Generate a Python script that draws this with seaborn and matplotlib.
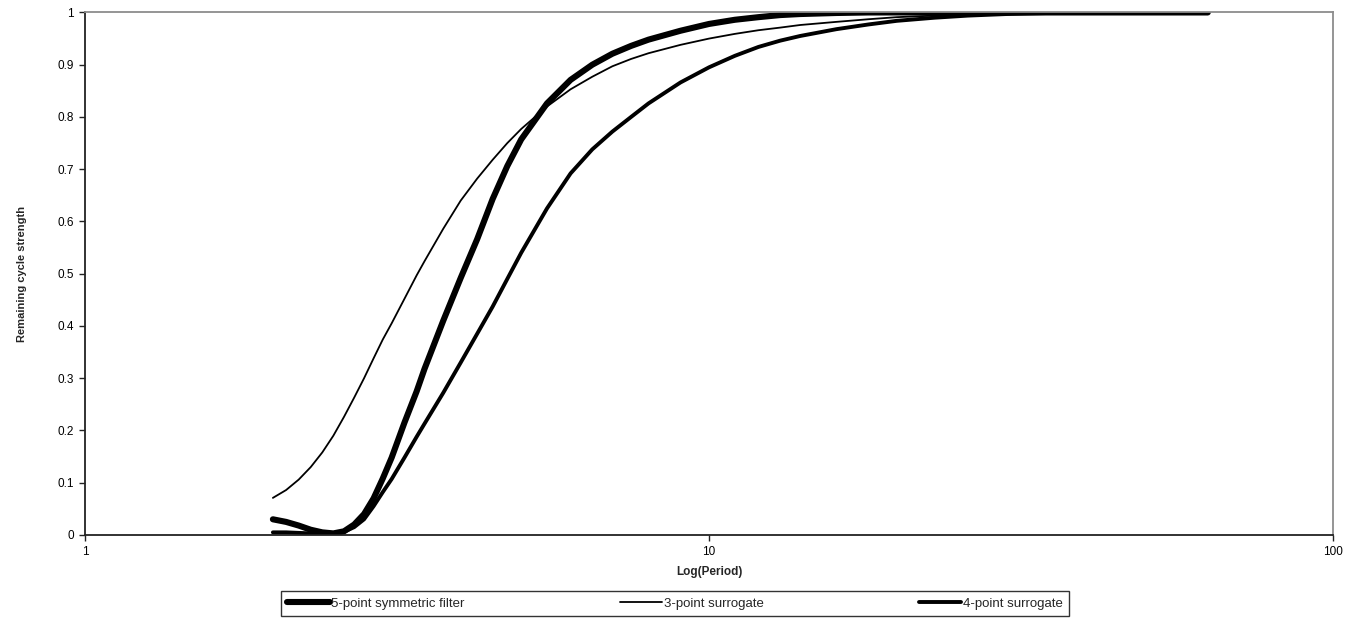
import numpy as np
import pandas as pd
import matplotlib
matplotlib.use("Agg")
import matplotlib.pyplot as plt
import seaborn as sns

period = [2.0, 2.1, 2.2, 2.3, 2.4, 2.5, 2.6, 2.7, 2.8, 2.9, 3.0, 3.1, 3.25, 3.4, 3.5,
          3.75, 4.0, 4.25, 4.5, 4.75, 5.0, 5.5, 6.0, 6.5, 7.0, 7.5, 8.0, 9.0, 10.0,
          11.0, 12.0, 13.0, 14.0, 16.0, 18.0, 20.0, 23.0, 26.0, 30.0, 35.0, 40.0,
          50.0, 63.0]

five_point = [0.030, 0.025, 0.018, 0.010, 0.005, 0.003, 0.007, 0.020, 0.040, 0.070,
              0.108, 0.148, 0.215, 0.275, 0.318, 0.410, 0.492, 0.566, 0.643, 0.706,
              0.757, 0.826, 0.871, 0.900, 0.921, 0.936, 0.948, 0.965, 0.978, 0.986,
              0.991, 0.995, 0.997, 0.999, 1.000, 1.000, 1.000, 1.000, 1.000, 1.000,
              1.000, 1.000, 1.000]

three_point = [0.071, 0.086, 0.106, 0.130, 0.158, 0.190, 0.226, 0.263, 0.300, 0.338,
               0.374, 0.405, 0.452, 0.497, 0.524, 0.586, 0.640, 0.682, 0.718, 0.750,
               0.777, 0.820, 0.853, 0.877, 0.897, 0.911, 0.922, 0.938, 0.950, 0.959,
               0.966, 0.971, 0.976, 0.982, 0.987, 0.991, 0.994, 0.996, 0.998, 0.999,
               1.000, 1.000, 1.000]

four_point = [0.005, 0.005, 0.004, 0.003, 0.002, 0.003, 0.006, 0.015, 0.030, 0.055,
              0.082, 0.107, 0.148, 0.188, 0.213, 0.272, 0.330, 0.385, 0.437, 0.490,
              0.540, 0.625, 0.692, 0.738, 0.772, 0.800, 0.826, 0.866, 0.895, 0.917,
              0.934, 0.946, 0.955, 0.968, 0.977, 0.984, 0.990, 0.994, 0.997, 0.999,
              1.000, 1.000, 1.000]

series_names = ["5-point symmetric filter", "3-point surrogate", "4-point surrogate"]
x_ticks = [1, 10, 100]
x_tick_labels = ["1", "10", "100"]
y_ticks = [0, 0.1, 0.2, 0.3, 0.4, 0.5, 0.6, 0.7, 0.8, 0.9, 1]
y_tick_labels = ["0", "0.1", "0.2", "0.3", "0.4", "0.5", "0.6", "0.7", "0.8", "0.9", "1"]

df = pd.concat([
    pd.DataFrame({"period": period, "value": five_point, "series": series_names[0]}),
    pd.DataFrame({"period": period, "value": three_point, "series": series_names[1]}),
    pd.DataFrame({"period": period, "value": four_point, "series": series_names[2]}),
], ignore_index=True)

sns.set_theme(style="ticks")
plt.rcParams["font.family"] = ["Liberation Sans", "DejaVu Sans"]

fig = plt.figure(figsize=(13.5, 6.23), dpi=100)
ax = fig.add_axes([0.063, 0.1413, 0.9244, 0.8387])

widths = {series_names[0]: 4.4, series_names[1]: 1.3, series_names[2]: 2.8}
for name in series_names:
    sub = df[df["series"] == name]
    sns.lineplot(data=sub, x="period", y="value", ax=ax, color="black",
                 linewidth=widths[name], label=name, legend=False,
                 solid_capstyle="round", solid_joinstyle="round", sort=False)

ax.set_xscale("log")
ax.set_xlim(1, 100)
ax.set_ylim(0, 1)
ax.set_xticks(x_ticks)
ax.set_xticklabels(x_tick_labels)
ax.xaxis.set_minor_locator(matplotlib.ticker.NullLocator())
ax.set_yticks(y_ticks)
ax.set_yticklabels(y_tick_labels)
ax.tick_params(axis="both", direction="out", length=4, width=1, colors="#222222",
               labelsize=8.5, labelcolor="black", pad=4)

for side in ["left", "bottom"]:
    ax.spines[side].set_color("#222222")
    ax.spines[side].set_linewidth(1.3)
for side in ["top", "right"]:
    ax.spines[side].set_visible(True)
    ax.spines[side].set_color("#8c8c8c")
    ax.spines[side].set_linewidth(1.3)

ax.set_xlabel("Log(Period)", fontsize=8.5, fontweight="bold", labelpad=6)
ax.set_ylabel("Remaining cycle strength", fontsize=8, fontweight="bold", labelpad=22)
ax.grid(False)

handles, labels = ax.get_legend_handles_labels()
leg = fig.legend(handles, labels, loc="lower center", bbox_to_anchor=(0.5, 0.0),
                 ncol=3, frameon=True, fancybox=False, fontsize=9.5,
                 handlelength=3.2, handletextpad=0.1, columnspacing=11.8,
                 borderpad=0.5, edgecolor="black")
leg.get_frame().set_linewidth(1.0)

fig.savefig("out.png", dpi=100)
